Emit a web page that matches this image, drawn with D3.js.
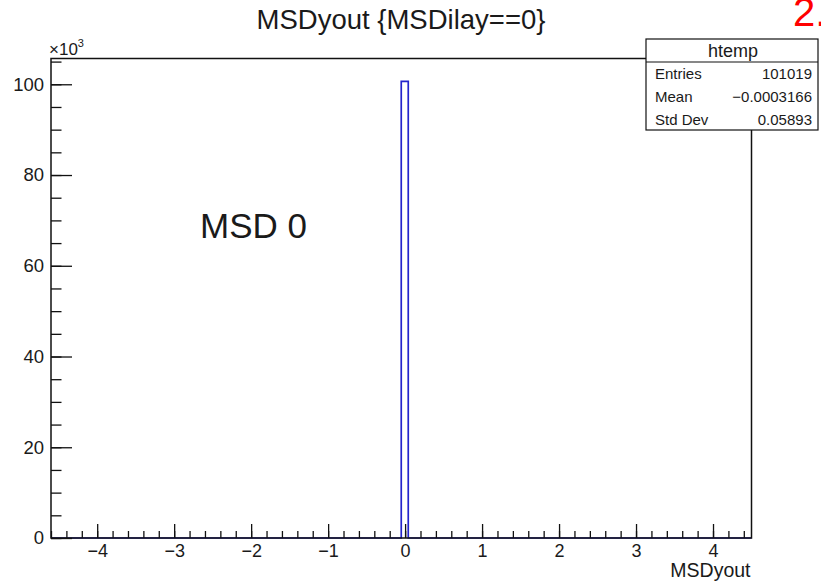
<!DOCTYPE html>
<html>
<head>
<meta charset="utf-8">
<script src="https://cdn.jsdelivr.net/npm/d3@7"></script>
<style>
  html, body { margin: 0; padding: 0; background: #fff; }
  svg { display: block; }
  text { font-family: "Liberation Sans", Arial, Helvetica, sans-serif; fill: #1a1a1a; }
</style>
</head>
<body>
<svg id="chart" width="821" height="582"></svg>
<script>
// Histogram of MSDyout for layer 0
const xRange = [-4.6, 4.5];
const yMaxValue = 105682;          // 1.05 x tallest bin
const binLowEdges = [-0.05];       // bins with visible content
const binWidths = [0.091];
const binCounts = [100650];

const xMajorTicks = [-4, -3, -2, -1, 0, 1, 2, 3, 4];
const xMinorTicks = d3.range(-46, 45, 2).map(v => v / 10);
const yMajorTicks = [0, 20000, 40000, 60000, 80000, 100000];
const yMinorTicks = d3.range(0, 105001, 5000);

const titleText = "MSDyout {MSDilay==0}";
const xAxisTitle = "MSDyout";
const statsTitle = "htemp";
const statLabels = ["Entries", "Mean", "Std Dev"];
const statValues = ["101019", "\u22120.0003166", "0.05893"];

const svg = d3.select("#chart");
const frame = { left: 51, right: 751.5, top: 58.5, bottom: 538 };

const x = d3.scaleLinear().domain(xRange).range([frame.left, frame.right]);
const y = d3.scaleLinear().domain([0, yMaxValue]).range([frame.bottom, frame.top]);

// histogram outline (step path along the baseline)
const pts = [[xRange[0], 0]];
binLowEdges.forEach((lo, i) => {
  const hi = lo + binWidths[i];
  pts.push([lo, 0], [lo, binCounts[i]], [hi, binCounts[i]], [hi, 0]);
});
pts.push([xRange[1], 0]);

svg.append("path")
  .attr("d", d3.line().x(d => x(d[0])).y(d => y(d[1]))(pts))
  .attr("fill", "none")
  .attr("stroke", "#2424cc")
  .attr("stroke-width", 1.7);

// axes with inward ticks
const gx = svg.append("g").attr("transform", `translate(0,${frame.bottom})`);
gx.append("g")
  .call(d3.axisBottom(x).tickValues(xMinorTicks).tickSize(-7).tickFormat(""))
  .call(g => g.select(".domain").remove());
gx.append("g")
  .call(d3.axisBottom(x).tickValues(xMajorTicks).tickSize(-14).tickPadding(6)
    .tickFormat(d3.format("d")))
  .call(g => g.select(".domain").remove())
  .call(g => g.selectAll("text").attr("font-size", 18).attr("font-family", null));

const gy = svg.append("g").attr("transform", `translate(${frame.left},0)`);
gy.append("g")
  .call(d3.axisLeft(y).tickValues(yMinorTicks).tickSize(-10.5).tickFormat(""))
  .call(g => g.select(".domain").remove());
gy.append("g")
  .call(d3.axisLeft(y).tickValues(yMajorTicks).tickSize(-21).tickPadding(7)
    .tickFormat(d => d3.format("d")(d / 1000)))
  .call(g => g.select(".domain").remove())
  .call(g => g.selectAll("text").attr("font-size", 18.5).attr("font-family", null));

svg.selectAll(".tick line").attr("stroke", "#111").attr("stroke-width", 1.3);

// frame
svg.append("rect")
  .attr("x", frame.left).attr("y", frame.top)
  .attr("width", frame.right - frame.left).attr("height", frame.bottom - frame.top)
  .attr("fill", "none").attr("stroke", "#111").attr("stroke-width", 1.5);

// exponent label on the y axis
const expo = svg.append("text").attr("x", 49).attr("y", 55).attr("font-size", 17);
expo.append("tspan").text("\u00d710");
expo.append("tspan").attr("dy", -8).attr("font-size", 11).text("3");

// title
svg.append("text")
  .attr("x", 401).attr("y", 29)
  .attr("text-anchor", "middle")
  .attr("font-size", 27.5)
  .text(titleText);

// x axis title
svg.append("text")
  .attr("x", frame.right - 1).attr("y", 577)
  .attr("text-anchor", "end")
  .attr("font-size", 19.5)
  .text(xAxisTitle);

// statistics box
const box = { x: 646, y: 39, w: 172, h: 91, head: 23 };
const gs = svg.append("g");
gs.append("rect")
  .attr("x", box.x).attr("y", box.y).attr("width", box.w).attr("height", box.h)
  .attr("fill", "#fff").attr("stroke", "#111").attr("stroke-width", 1.2);
gs.append("line")
  .attr("x1", box.x).attr("x2", box.x + box.w)
  .attr("y1", box.y + box.head).attr("y2", box.y + box.head)
  .attr("stroke", "#111").attr("stroke-width", 1.2);
gs.append("text")
  .attr("x", box.x + box.w / 2 + 1).attr("y", box.y + 18)
  .attr("text-anchor", "middle").attr("font-size", 18)
  .text(statsTitle);
statLabels.forEach((lab, i) => {
  const yy = 79 + i * 23;
  gs.append("text").attr("x", box.x + 9).attr("y", yy).attr("font-size", 15).text(lab);
  gs.append("text").attr("x", box.x + box.w - 6).attr("y", yy)
    .attr("text-anchor", "end").attr("font-size", 15).text(statValues[i]);
});

// slide annotations
svg.append("text")
  .attr("x", 200).attr("y", 238)
  .attr("font-family", "'Open Sans', 'Noto Sans', sans-serif")
  .attr("font-size", 35)
  .attr("fill", "#111")
  .text("MSD 0");

svg.append("text")
  .attr("x", 793).attr("y", 26)
  .attr("font-size", 40)
  .style("fill", "#ff0000")
  .text("2.");
</script>
</body>
</html>
